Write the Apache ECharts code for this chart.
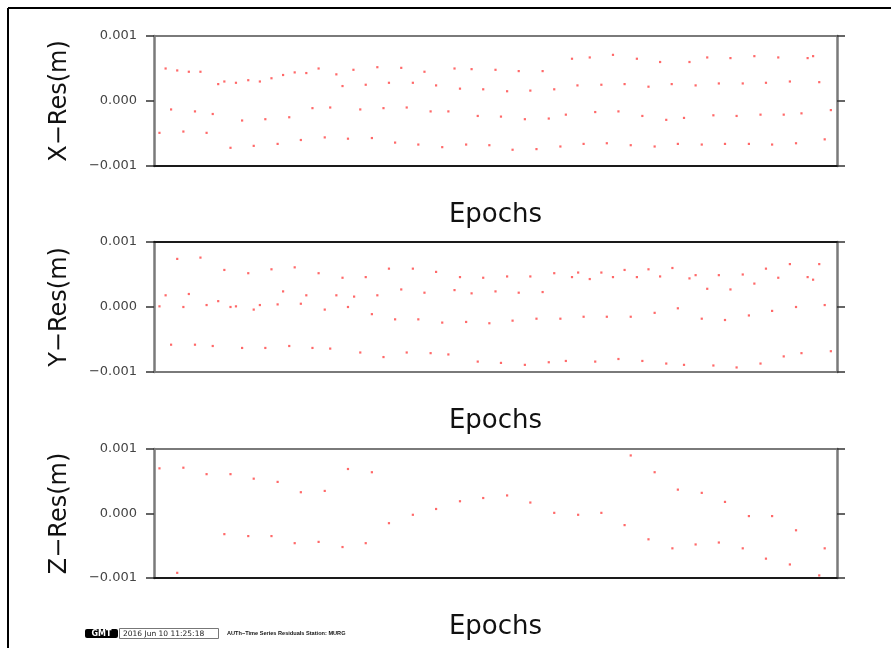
<!DOCTYPE html>
<html>
<head>
<meta charset="utf-8">
<script src="https://cdn.jsdelivr.net/npm/echarts@6/dist/echarts.min.js"></script>
<style>
  html, body { margin: 0; padding: 0; background: #fff; }
  #chart { width: 891px; height: 648px; }
</style>
</head>
<body>
<div id="chart"></div>
<script>
// residuals: [epoch, residual (m)]
const xRes = [
  [1.7, 0.00050], [3.4, 0.00047], [5.1, 0.00045], [6.8, 0.00045], [9.4, 0.00026], [10.3, 0.00030],
  [12.0, 0.00028], [13.8, 0.00032], [15.5, 0.00030], [17.2, 0.00035], [18.9, 0.00040], [20.6, 0.00044],
  [22.3, 0.00043], [24.1, 0.00050], [26.7, 0.00041], [29.2, 0.00048], [32.7, 0.00052], [36.2, 0.00051],
  [39.6, 0.00045], [44.0, 0.00050], [46.5, 0.00049], [50.0, 0.00048],
  [27.6, 0.00023], [31.0, 0.00025], [34.4, 0.00028], [37.9, 0.00028], [41.3, 0.00024], [44.8, 0.00019], [48.2, 0.00018],
  [2.5, -0.00013], [6.0, -0.00016], [8.6, -0.00020], [12.9, -0.00030], [16.3, -0.00028], [19.8, -0.00025],
  [23.2, -0.00011], [25.8, -0.00010], [30.2, -0.00013], [33.6, -0.00011], [37.0, -0.00010], [40.5, -0.00016],
  [43.1, -0.00016], [47.4, -0.00023],
  [0.8, -0.00049], [4.3, -0.00047], [7.7, -0.00049], [11.2, -0.00072], [14.6, -0.00069], [18.1, -0.00066],
  [21.5, -0.00060], [25.0, -0.00056], [28.4, -0.00058], [31.9, -0.00057], [35.3, -0.00064], [38.7, -0.00067],
  [42.2, -0.00071], [45.7, -0.00067], [49.1, -0.00068],
  [53.4, 0.00046], [56.9, 0.00046], [61.2, 0.00065], [63.8, 0.00067], [67.2, 0.00071], [70.7, 0.00065],
  [74.1, 0.00060], [78.4, 0.00060], [81.0, 0.00067], [84.4, 0.00066], [87.9, 0.00069], [91.4, 0.00067],
  [95.7, 0.00066], [96.5, 0.00069],
  [51.7, 0.00015], [55.1, 0.00016], [58.6, 0.00018], [62.0, 0.00024], [65.5, 0.00025], [68.9, 0.00026],
  [72.4, 0.00022], [75.8, 0.00026], [79.3, 0.00024], [82.7, 0.00027], [86.2, 0.00027], [89.6, 0.00028],
  [93.1, 0.00030], [97.4, 0.00029],
  [50.8, -0.00024], [54.3, -0.00028], [57.8, -0.00027], [60.3, -0.00021], [64.6, -0.00017], [68.0, -0.00016],
  [71.5, -0.00023], [75.0, -0.00029], [77.6, -0.00026], [81.9, -0.00022], [85.3, -0.00023], [88.8, -0.00021],
  [92.2, -0.00021], [94.8, -0.00019], [99.1, -0.00014],
  [52.5, -0.00075], [56.0, -0.00074], [59.5, -0.00070], [62.9, -0.00066], [66.3, -0.00065], [69.8, -0.00068],
  [73.3, -0.00070], [76.7, -0.00066], [80.2, -0.00067], [83.6, -0.00066], [87.1, -0.00066], [90.5, -0.00067],
  [94.0, -0.00065], [98.2, -0.00059]
];

const yRes = [
  [3.4, 0.00074], [6.8, 0.00076], [10.3, 0.00057], [13.8, 0.00052], [17.2, 0.00058], [20.6, 0.00061],
  [24.1, 0.00052], [27.6, 0.00045], [31.0, 0.00046], [34.4, 0.00059], [37.9, 0.00059], [41.3, 0.00054],
  [44.8, 0.00046], [48.2, 0.00045],
  [1.7, 0.00018], [5.1, 0.00020], [18.9, 0.00024], [22.3, 0.00018], [26.7, 0.00018], [29.3, 0.00016],
  [32.7, 0.00018], [36.2, 0.00027], [39.6, 0.00022], [44.0, 0.00026], [46.5, 0.00021], [50.0, 0.00024],
  [0.8, 0.00001], [4.3, 0.00000], [7.7, 0.00003], [9.4, 0.00009], [11.2, 0.00000], [12.0, 0.00001],
  [14.6, -0.00004], [15.5, 0.00003], [18.1, 0.00004], [21.5, 0.00005], [25.0, -0.00004], [28.4, 0.00000],
  [31.9, -0.00011], [35.3, -0.00019], [38.7, -0.00019], [42.2, -0.00024], [45.7, -0.00023], [49.1, -0.00025],
  [2.5, -0.00058], [6.0, -0.00058], [8.6, -0.00060], [12.9, -0.00063], [16.3, -0.00063], [19.8, -0.00060],
  [23.2, -0.00063], [25.8, -0.00064], [30.2, -0.00070], [33.6, -0.00077], [37.0, -0.00070], [40.5, -0.00071],
  [43.1, -0.00073], [47.4, -0.00084],
  [51.7, 0.00047], [55.1, 0.00047], [58.6, 0.00052], [61.2, 0.00046], [62.1, 0.00053], [63.8, 0.00043],
  [65.5, 0.00053], [67.2, 0.00046], [68.9, 0.00057], [70.7, 0.00046], [72.4, 0.00058], [74.1, 0.00047],
  [75.9, 0.00060], [78.4, 0.00044], [79.3, 0.00049], [82.7, 0.00049], [86.2, 0.00050], [89.6, 0.00059],
  [91.4, 0.00045], [93.1, 0.00066], [95.7, 0.00046], [96.5, 0.00042], [97.4, 0.00066],
  [53.4, 0.00022], [56.9, 0.00023], [81.0, 0.00028], [84.4, 0.00027], [87.9, 0.00036],
  [52.5, -0.00021], [56.0, -0.00018], [59.5, -0.00018], [62.9, -0.00015], [66.3, -0.00015], [69.8, -0.00015],
  [73.3, -0.00009], [76.7, -0.00002], [80.2, -0.00018], [83.6, -0.00020], [87.1, -0.00013], [90.5, -0.00006],
  [94.0, 0.00000], [98.2, 0.00003],
  [50.8, -0.00086], [54.3, -0.00089], [57.8, -0.00085], [60.3, -0.00083], [64.6, -0.00084], [68.0, -0.00080],
  [71.5, -0.00083], [75.0, -0.00087], [77.6, -0.00089], [81.9, -0.00090], [85.3, -0.00093], [88.8, -0.00087],
  [92.2, -0.00076], [94.8, -0.00071], [99.1, -0.00068]
];

const zRes = [
  [0.8, 0.00070], [4.3, 0.00071], [7.7, 0.00061], [11.2, 0.00061], [14.6, 0.00054], [18.1, 0.00049],
  [21.5, 0.00033], [25.0, 0.00035], [28.4, 0.00069], [31.9, 0.00064],
  [3.4, -0.00092],
  [10.3, -0.00032], [13.8, -0.00035], [17.2, -0.00035], [20.6, -0.00046], [24.1, -0.00044], [27.6, -0.00052],
  [31.0, -0.00046], [34.4, -0.00015], [37.9, -0.00002], [41.3, 0.00007], [44.8, 0.00019], [48.2, 0.00024],
  [51.7, 0.00028], [55.1, 0.00017], [58.6, 0.00001], [62.1, -0.00002], [65.5, 0.00001], [68.9, -0.00018],
  [72.4, -0.00040], [75.9, -0.00054], [79.3, -0.00048], [82.7, -0.00045], [86.2, -0.00054], [89.6, -0.00070],
  [93.1, -0.00079], [97.4, -0.00096],
  [69.8, 0.00090], [73.3, 0.00064], [76.7, 0.00037], [80.2, 0.00032], [83.6, 0.00018], [87.1, -0.00004],
  [90.5, -0.00004], [94.0, -0.00026], [98.2, -0.00054]
];

const panelNames = ['X−Res(m)', 'Y−Res(m)', 'Z−Res(m)'];
const xName = 'Epochs';
const stampTime = '2016 Jun 10 11:25:18';
const stampLabel = 'AUTh−Time Series Residuals Station: MURG';

const panelData = [xRes, yRes, zRes];
const panelTop = [36, 242, 449];
const panelHeight = [130, 130, 129];
// GMT frame: top/bottom edges alternate between gray and black
const topColor = ['#7a7a7a', '#1a1a1a', '#7a7a7a'];
const bottomColor = ['#1a1a1a', '#7a7a7a', '#1a1a1a'];

function fmtTick(v) {
  if (Math.abs(v) < 1e-9) return '0.000';
  return (v < 0 ? '−' : '') + Math.abs(v).toFixed(3);
}

let grids = [], xAxes = [], yAxes = [], series = [];
panelData.forEach((data, i) => {
  grids.push({ left: 154, right: 54, top: panelTop[i], height: panelHeight[i], outerBoundsMode: 'none' });

  const baseX = {
    gridIndex: i, type: 'value', min: 0, max: 100,
    axisTick: { show: false }, axisLabel: { show: false }, splitLine: { show: false }
  };
  xAxes.push(Object.assign({}, baseX, {
    position: 'bottom',
    axisLine: { show: true, onZero: false, lineStyle: { color: bottomColor[i], width: 2 } },
    name: xName, nameLocation: 'middle', nameGap: 36,
    nameTextStyle: { fontFamily: 'DejaVu Sans', fontSize: 26, color: '#111' }
  }));
  xAxes.push(Object.assign({}, baseX, {
    position: 'top',
    axisLine: { show: true, onZero: false, lineStyle: { color: topColor[i], width: 2 } }
  }));

  const baseY = {
    gridIndex: i, type: 'value', min: -0.001, max: 0.001, interval: 0.001,
    splitLine: { show: false },
    axisLine: { show: true, onZero: false, lineStyle: { color: '#7a7a7a', width: 2.5 } },
    axisTick: { show: true, length: 8, lineStyle: { color: '#333', width: 1.5 } }
  };
  yAxes.push(Object.assign({}, baseY, {
    position: 'left',
    axisLabel: { formatter: fmtTick, fontFamily: 'DejaVu Sans', fontSize: 13, color: '#444', margin: 17 },
    name: panelNames[i], nameLocation: 'middle', nameGap: 82, nameRotate: 90,
    nameTextStyle: { fontFamily: 'DejaVu Sans', fontSize: 24, color: '#111' }
  }));
  yAxes.push(Object.assign({}, baseY, {
    position: 'right',
    axisLabel: { show: false }
  }));

  series.push({
    type: 'scatter',
    xAxisIndex: 2 * i, yAxisIndex: 2 * i,
    symbol: 'rect', symbolSize: 2.2,
    itemStyle: { color: '#ff2a2a', opacity: 0.7 },
    silent: true,
    data: data
  });
});

const chart = echarts.init(document.getElementById('chart'));
chart.setOption({
  backgroundColor: '#fff',
  animation: false,
  grid: grids,
  xAxis: xAxes,
  yAxis: yAxes,
  series: series,
  graphic: [
    // page frame
    { type: 'line', shape: { x1: 8, y1: 8, x2: 891, y2: 8 }, style: { stroke: '#000', lineWidth: 2 } },
    { type: 'line', shape: { x1: 8, y1: 8, x2: 8, y2: 648 }, style: { stroke: '#000', lineWidth: 2 } },
    // GMT time stamp
    { type: 'rect', shape: { x: 85, y: 629, width: 33, height: 9, r: 2 }, style: { fill: '#000' } },
    { type: 'text', x: 101.5, y: 633.8, style: { text: 'GMT', fill: '#fff', font: 'bold 8px "DejaVu Sans"', align: 'center', verticalAlign: 'middle' } },
    { type: 'rect', shape: { x: 119.5, y: 628.5, width: 99, height: 10 }, style: { fill: 'none', stroke: '#777', lineWidth: 1 } },
    { type: 'text', x: 123, y: 633.8, style: { text: stampTime, fill: '#222', font: '7.5px "DejaVu Sans"', align: 'left', verticalAlign: 'middle' } },
    { type: 'text', x: 227, y: 633.8, style: { text: stampLabel, fill: '#111', font: 'bold 5.6px "Liberation Sans"', align: 'left', verticalAlign: 'middle' } }
  ]
});
</script>
</body>
</html>
